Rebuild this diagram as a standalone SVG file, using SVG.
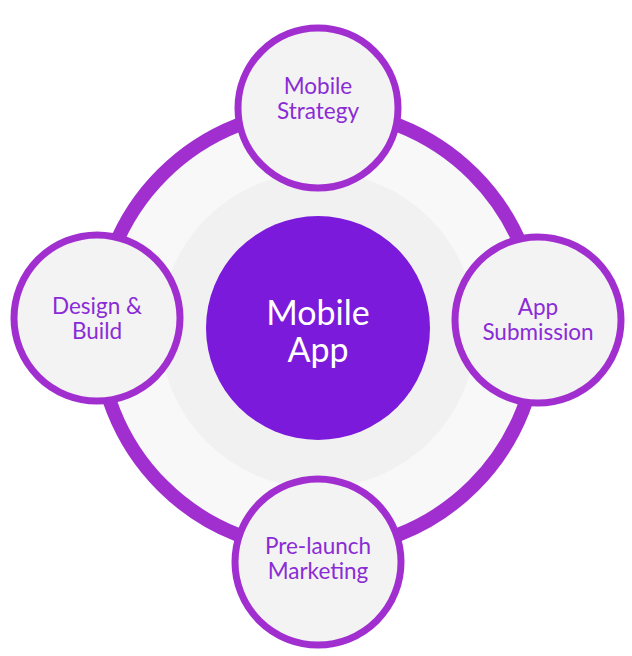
<svg xmlns="http://www.w3.org/2000/svg" width="632" height="656" viewBox="0 0 632 656">
<style>
.n{fill:#f3f3f3;stroke:#a12fd0;stroke-width:7}
.t{font-family:Lato,"Liberation Sans",sans-serif;font-size:22.5px;fill:#8a2bd6;text-anchor:middle}
.c{font-family:Lato,"Liberation Sans",sans-serif;font-size:34px;fill:#fff;text-anchor:middle}
</style>
<rect width="632" height="656" fill="#fff"/>
<g id="ring">
<circle cx="318" cy="330" r="220" fill="#f8f8f8" stroke="#a12fd0" stroke-width="14"/>
<circle cx="318" cy="330" r="158" fill="#f1f1f1"/>
</g>
<g id="center">
<circle cx="318" cy="328" r="112" fill="#7b1adb"/>
<text class="c" x="318" y="325">Mobile</text>
<text class="c" x="318" y="362">App</text>
</g>
<g id="strategy">
<circle class="n" cx="318" cy="108" r="80"/>
<text class="t" x="318" y="94">Mobile</text>
<text class="t" x="318" y="119">Strategy</text>
</g>
<g id="design">
<circle class="n" cx="97" cy="318" r="83"/>
<text class="t" x="97" y="314">Design &amp;</text>
<text class="t" x="97" y="339">Build</text>
</g>
<g id="submission">
<circle class="n" cx="538" cy="320" r="83"/>
<text class="t" x="538" y="315">App</text>
<text class="t" x="538" y="340">Submission</text>
</g>
<g id="marketing">
<circle class="n" cx="318" cy="562" r="83"/>
<text class="t" x="318" y="554">Pre-launch</text>
<text class="t" x="318" y="579">Marketing</text>
</g>
<g id="connectors"/>
</svg>
